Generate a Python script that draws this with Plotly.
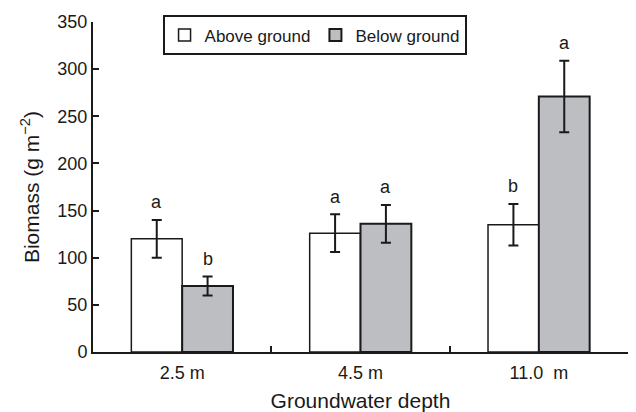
import plotly.graph_objects as go

categories = ["2.5 m", "4.5 m", "11.0  m"]
above = [120, 126, 135]
above_err = [20, 20, 22]
below = [70, 136, 271]
below_err = [10, 20, 38]
above_letters = ["a", "a", "b"]
below_letters = ["b", "a", "a"]

FONT = "Liberation Sans, Arial, sans-serif"
BARGAP = 0.43

fig = go.Figure()
fig.add_trace(go.Bar(
    x=categories, y=above, name="Above ground",
    marker=dict(color="white", line=dict(color="#1a1a1a", width=1.5)),
    error_y=dict(type="data", array=above_err, color="#1a1a1a", thickness=2, width=5),
))
fig.add_trace(go.Bar(
    x=categories, y=below, name="Below ground",
    marker=dict(color="#bdbec2", line=dict(color="#1a1a1a", width=2)),
    error_y=dict(type="data", array=below_err, color="#1a1a1a", thickness=2, width=5),
))

half = (1 - BARGAP) / 4
for i, cat in enumerate(categories):
    for vals, errs, letters, sign in ((above, above_err, above_letters, -1),
                                      (below, below_err, below_letters, 1)):
        fig.add_annotation(
            x=i + sign * half, y=vals[i] + errs[i] + 6, xref="x", yref="y",
            text=letters[i], showarrow=False, yanchor="bottom",
            font=dict(family=FONT, size=18, color="#1a1a1a"),
        )

fig.update_layout(
    width=636, height=412,
    margin=dict(l=93, r=8, t=22, b=60),
    paper_bgcolor="white", plot_bgcolor="white",
    barmode="group", bargap=BARGAP, bargroupgap=0,
    font=dict(family=FONT, size=18, color="#1a1a1a"),
    showlegend=True,
    legend=dict(
        orientation="h", x=0.13, y=1.02, xanchor="left", yanchor="top",
        bordercolor="#1a1a1a", borderwidth=2, bgcolor="white",
        font=dict(family=FONT, size=17, color="#1a1a1a"),
        itemwidth=30, tracegroupgap=0,
    ),
    xaxis=dict(
        type="category", range=[-0.5, 2.5], tickson="boundaries",
        ticks="inside", ticklen=6, tickwidth=1.5, tickcolor="#1a1a1a",
        showline=True, linecolor="#1a1a1a", linewidth=2, showgrid=False,
        tickfont=dict(size=18), automargin=False, ticklabelstandoff=3,
        title=dict(text="Groundwater depth", font=dict(size=21), standoff=20),
    ),
    yaxis=dict(
        range=[0, 350], dtick=50, ticks="inside", ticklen=6, tickwidth=1.5,
        tickcolor="#1a1a1a", showline=True, linecolor="#1a1a1a", linewidth=2,
        showgrid=False, zeroline=False, tickfont=dict(size=18), automargin=False,
        title=dict(text="Biomass (g m<sup>\u22122</sup>)", font=dict(size=21), standoff=12),
    ),
)

fig.write_html("out.html")
